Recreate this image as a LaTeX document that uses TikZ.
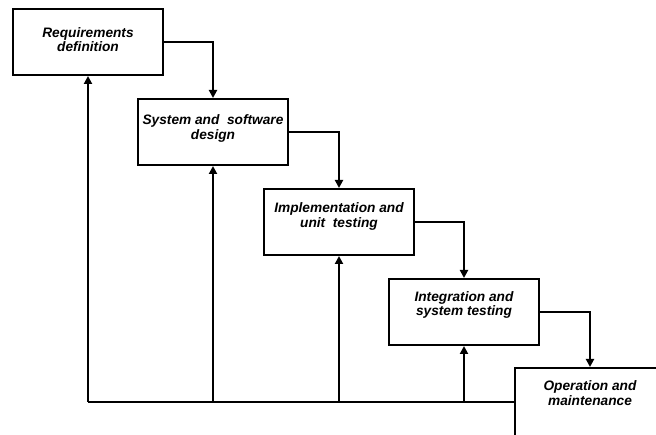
\documentclass[tikz,border=0pt]{standalone}
\usepackage{fontspec}
\setmainfont{Liberation Sans}
\usetikzlibrary{arrows.meta}
\begin{document}
\begin{tikzpicture}[x=1pt,y=-1pt,
  phase/.style={draw,line width=2pt,rectangle,minimum width=150pt,minimum height=66pt,inner sep=0pt},
  lbl/.style={font=\fontsize{13.7}{14.6}\selectfont\bfseries\itshape,align=center,inner sep=0pt},
  arr/.style={line width=2pt,-{Triangle[length=8pt,width=8pt]}},
  ln/.style={line width=2pt}]
\useasboundingbox (0,0) rectangle (656,435);
\clip (0,0) rectangle (656,435);
\node[phase] (b1) at (88,42) {};
\node[phase] (b2) at (213,132) {};
\node[phase] (b3) at (339,222) {};
\node[phase] (b4) at (464,312) {};
\node[phase,minimum height=84pt] (b5) at (590,410) {};
\node[lbl] (t1) at (88,39.5) {Requirements\\definition};
\node[lbl] (t2) at (213,128.5) {System and\ \ software\\design};
\node[lbl] (t3) at (339,216.5) {Implementation and\\unit\ \ testing};
\node[lbl] (t4) at (464,305) {Integration and\\system testing};
\node[lbl] (t5) at (590,393) {Operation and\\maintenance};
\draw[arr] (b1.east) -| (b2.north);
\draw[arr] (b2.east) -| (b3.north);
\draw[arr] (b3.east) -| (b4.north);
\draw[arr] (b4.east) -| (b5.north);
\coordinate (fb) at (88,402);
\draw[ln] (fb) -- (fb -| b5.west);
\draw[arr] (fb) -- (b1.south);
\draw[arr] (b2.south |- fb) -- (b2.south);
\draw[arr] (b3.south |- fb) -- (b3.south);
\draw[arr] (b4.south |- fb) -- (b4.south);
\end{tikzpicture}
\end{document}
